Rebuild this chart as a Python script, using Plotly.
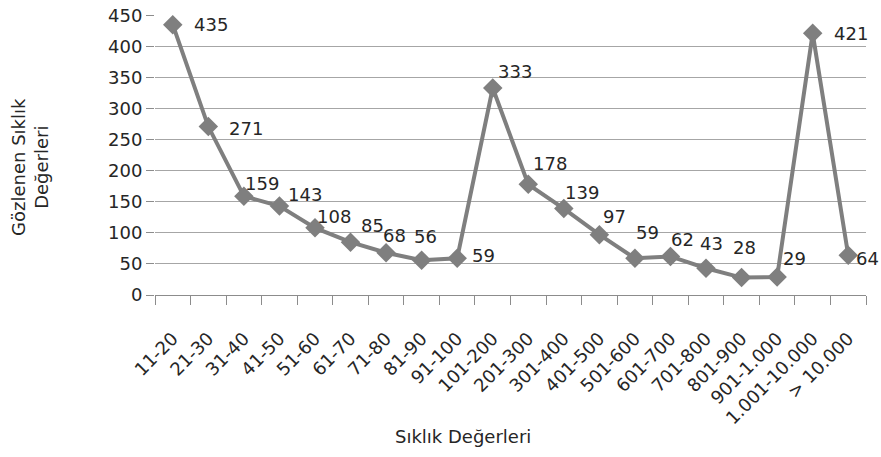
import plotly.graph_objects as go

categories = ["11-20", "21-30", "31-40", "41-50", "51-60", "61-70", "71-80", "81-90",
              "91-100", "101-200", "201-300", "301-400", "401-500", "501-600", "601-700",
              "701-800", "801-900", "901-1.000", "1.001-10.000", "> 10.000"]
values = [435, 271, 159, 143, 108, 85, 68, 56, 59, 333, 178, 139, 97, 59, 62, 43, 28, 29, 421, 64]
y_ticks = [0, 50, 100, 150, 200, 250, 300, 350, 400, 450]

# label offsets (pixels) from each marker centre: left edge dx, vertical centre dy (negative = up)
label_dx = [20, 20, 0, 8, 1, 9, -4, -9, 14, 4, 4, 0, 3, 0, 0, -7, -10, 5, 20, 7]
label_dy = [0, 2, -13, -12, -11, -17, -17, -24, -3, -17, -21, -16, -18, -26, -17, -25, -30, -18, 0, 3]

font_family = "DejaVu Sans, sans-serif"
text_color = "#262626"
fs = 18

fig = go.Figure()
fig.add_trace(go.Scatter(
    x=categories, y=values, mode="lines+markers",
    line=dict(color="#7f7f7f", width=4),
    marker=dict(symbol="diamond", size=15, color="#7f7f7f"),
    cliponaxis=False,
    showlegend=False,
    hoverinfo="skip",
))

annotations = []
for c, v, dx, dy in zip(categories, values, label_dx, label_dy):
    annotations.append(dict(
        x=c, y=v, xref="x", yref="y", text=str(v), showarrow=False,
        xanchor="left", yanchor="middle", xshift=dx, yshift=-dy, borderpad=0,
        font=dict(family=font_family, size=fs, color=text_color),
    ))

annotations += [
    dict(text="Sıklık Değerleri", xref="paper", yref="paper", x=0.433, y=-0.507,
         xanchor="center", yanchor="middle", showarrow=False,
         font=dict(family=font_family, size=fs, color=text_color)),
    dict(text="Gözlenen Sıklık<br>Değerleri", xref="paper", yref="paper", x=-0.176, y=0.457,
         xanchor="center", yanchor="middle", showarrow=False, textangle=-90,
         font=dict(family=font_family, size=fs, color=text_color)),
]

fig.update_layout(
    width=881, height=457,
    margin=dict(l=155, r=15, t=15, b=162),
    paper_bgcolor="white", plot_bgcolor="white",
    font=dict(family=font_family, size=fs, color=text_color),
    xaxis=dict(
        type="category",
        range=[-0.5, len(categories) - 0.5],
        tickangle=-45,
        ticks="outside", ticklen=9, tickcolor="#8c8c8c",
        tickson="boundaries",
        ticklabelstandoff=25,
        showline=True, linecolor="#8c8c8c", linewidth=1,
        showgrid=False,
        automargin=False,
        tickfont=dict(family=font_family, size=fs, color=text_color),
    ),
    yaxis=dict(
        range=[0, 450.5],
        tickvals=y_ticks,
        ticks="outside", ticklen=8, tickcolor="#8c8c8c",
        ticklabeloverflow="allow",
        showgrid=True, gridcolor="#a6a6a6", gridwidth=1,
        showline=False, zeroline=False,
        automargin=False,
        tickfont=dict(family=font_family, size=fs, color=text_color),
    ),
    annotations=annotations,
)

fig.write_html("out.html", config={"displayModeBar": False},
               post_script="document.body.style.margin='0';")
